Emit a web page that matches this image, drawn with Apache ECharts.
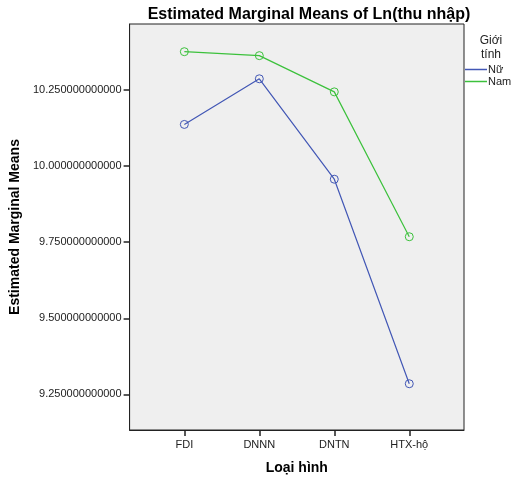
<!DOCTYPE html>
<html>
<head>
<meta charset="utf-8">
<script src="https://cdn.jsdelivr.net/npm/echarts@6/dist/echarts.min.js"></script>
<style>
html, body { margin: 0; padding: 0; background: #fff; }
#chart { width: 513px; height: 481px; }
</style>
</head>
<body>
<div id="chart"></div>
<script>
// loại hình doanh nghiệp
var categories = ['FDI', 'DNNN', 'DNTN', 'HTX-hộ'];
// giá trị trung bình ước lượng
var nuValues = [10.137, 10.287, 9.957, 9.285];
var namValues = [10.376, 10.363, 10.244, 9.768];
var yTicks = [9.25, 9.5, 9.75, 10.0, 10.25];

var font = 'Liberation Sans, Arial, sans-serif';
var blue = '#4257b5';
var green = '#3cc13c';

function toPoints(values) {
    return values.map(function (v, i) { return [i, v]; });
}

var myChart = echarts.init(document.getElementById('chart'));
myChart.setOption({
    animation: false,
    title: [{
        text: 'Estimated Marginal Means of Ln(thu nhập)',
        left: 304,
        top: 2,
        textAlign: 'center',
        textStyle: { fontFamily: font, fontSize: 16, fontWeight: 'bold', color: '#000' }
    }, {
        text: 'Giới\ntính',
        left: 486,
        top: 29,
        textAlign: 'center',
        textStyle: { fontFamily: font, fontSize: 12, fontWeight: 'normal', color: '#222', lineHeight: 14 }
    }],
    legend: { //图例
        orient: 'vertical',
        left: 465,
        top: 64,
        padding: 0,
        itemWidth: 22,
        itemHeight: 1.5,
        itemGap: 1,
        icon: 'rect',
        textStyle: { fontFamily: font, fontSize: 11, color: '#222', padding: [0, 0, 0, -4] },
        data: [
            { name: 'Nữ', itemStyle: { color: blue, borderWidth: 0 } },
            { name: 'Nam', itemStyle: { color: green, borderWidth: 0 } }
        ]
    },
    grid: {
        show: true,
        left: 128,
        right: 49,
        top: 24,
        bottom: 51,
        backgroundColor: '#efefef',
        borderColor: '#222',
        borderWidth: 1
    },
    xAxis: {
        type: 'value',
        min: -0.73,
        max: 3.73,
        name: 'Loại hình',
        nameLocation: 'middle',
        nameGap: 31,
        nameTextStyle: { fontFamily: font, fontSize: 14, fontWeight: 'bold', color: '#000' },
        axisLine: { show: true, onZero: false, lineStyle: { color: '#222' } },
        axisTick: { show: true, length: 6, customValues: [0, 1, 2, 3], lineStyle: { color: '#222', width: 1.5 } },
        axisLabel: {
            customValues: [0, 1, 2, 3],
            margin: 9,
            fontFamily: font,
            fontSize: 11,
            color: '#222',
            formatter: function (v) { return categories[Math.round(v)]; }
        },
        splitLine: { show: false }
    },
    yAxis: {
        type: 'value',
        min: 9.133,
        max: 10.467,
        name: 'Estimated Marginal Means',
        nameLocation: 'middle',
        nameGap: 102,
        nameTextStyle: { fontFamily: font, fontSize: 14, fontWeight: 'bold', color: '#000' },
        axisLine: { show: true, onZero: false, lineStyle: { color: '#222' } },
        axisTick: { show: true, length: 6, customValues: yTicks, lineStyle: { color: '#222', width: 1.5 } },
        axisLabel: {
            customValues: yTicks,
            margin: 8,
            fontFamily: font,
            fontSize: 11,
            color: '#222',
            formatter: function (v) { return v.toFixed(12); }
        },
        splitLine: { show: false }
    },
    series: [{
        name: 'Nữ',
        type: 'line',
        data: toPoints(nuValues),
        symbol: 'circle',
        symbolSize: 8,
        lineStyle: { color: blue, width: 1.2 },
        itemStyle: { color: 'rgba(0,0,0,0)', borderColor: blue, borderWidth: 1 }
    }, {
        name: 'Nam',
        type: 'line',
        data: toPoints(namValues),
        symbol: 'circle',
        symbolSize: 8,
        lineStyle: { color: green, width: 1.2 },
        itemStyle: { color: 'rgba(0,0,0,0)', borderColor: green, borderWidth: 1 }
    }]
});
</script>
</body>
</html>
